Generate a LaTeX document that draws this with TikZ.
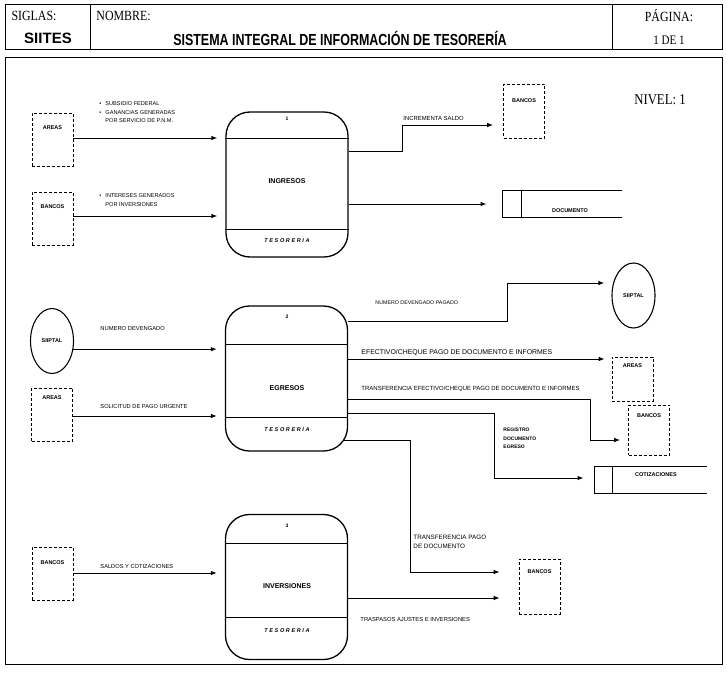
\documentclass[tikz,border=0pt]{standalone}
\usepackage{fontspec}
\setmainfont{Liberation Serif}
\newfontfamily\hdrfont[FakeStretch=0.85]{Liberation Serif}
\newfontfamily\ttlfont[FakeStretch=0.78]{Liberation Sans}
\newfontfamily\lblfont{Liberation Sans}
\usetikzlibrary{arrows.meta,calc,shapes.geometric}

\begin{document}
\begin{tikzpicture}[x=1pt,y=-1pt,
  line width=0.9pt,
  arr/.style={-{Latex[length=6pt,width=4.5pt]}, line width=1pt, shorten >=#1},
  arr/.default=8pt,
  proc/.style={draw, line width=1.3pt, rounded corners=24pt,
    minimum width=122pt, minimum height=145pt, inner sep=0pt},
  ext/.style={draw, line width=0.6pt, densely dashed,
    minimum width=41pt, minimum height=#1, inner sep=0pt},
  ext/.default=53pt,
  extc/.style={draw, ellipse, line width=1.1pt,
    minimum width=43pt, minimum height=65pt, inner sep=0pt,
    font=\lblfont\bfseries\fontsize{5.5}{6}\selectfont},
  elab/.style={font=\lblfont\bfseries\fontsize{5.5}{6}\selectfont, inner sep=0pt},
  store/.style={minimum width=#1, minimum height=26pt, inner sep=0pt},
  lab/.style={font=\lblfont\fontsize{#1}{#1}\selectfont, inner sep=0pt, anchor=west},
  lab/.default=5.8,
  mlab/.style={font=\lblfont\fontsize{#1}{8.5}\selectfont, inner sep=0pt,
    anchor=north west, align=left},
  pname/.style={font=\lblfont\bfseries\fontsize{7}{8}\selectfont, inner sep=0pt},
  pnum/.style={font=\lblfont\bfseries\fontsize{5}{6}\selectfont, inner sep=0pt},
  pown/.style={font=\lblfont\bfseries\itshape\addfontfeature{LetterSpace=30}\fontsize{5.5}{6}\selectfont, inner sep=0pt},
  slab/.style={font=\lblfont\bfseries\fontsize{5.5}{6}\selectfont, inner sep=0pt},
]
\useasboundingbox (0,0) rectangle (727,674);

% ---------- header ----------
\draw[line width=1pt] (5,5) rectangle (722,50);
\draw[line width=1pt] (90,5) -- (90,50);
\draw[line width=1pt] (612,5) -- (612,50);
\node[font=\hdrfont\fontsize{14}{14}\selectfont, inner sep=0pt] (siglas) at (34,16) {SIGLAS:};
\node[font=\lblfont\bfseries\fontsize{15}{15}\selectfont, inner sep=0pt] (siites) at (48,38) {SIITES};
\node[font=\hdrfont\fontsize{14}{14}\selectfont, inner sep=0pt, anchor=west] (nombre) at (96,16) {NOMBRE:};
\node[font=\ttlfont\bfseries\fontsize{16}{16}\selectfont, inner sep=0pt] (titulo) at (340,38)
  {SISTEMA INTEGRAL DE INFORMACIÓN DE TESORERÍA};
\node[font=\hdrfont\fontsize{14}{14}\selectfont, inner sep=0pt] (pagina) at (669,16) {PÁGINA:};
\node[font=\hdrfont\fontsize{13}{13}\selectfont, inner sep=0pt] (pag) at (669,40) {1 DE 1};

% ---------- frame ----------
\draw[line width=1pt] (5,58) rectangle (722,664);
\node[font=\hdrfont\fontsize{15}{15}\selectfont, inner sep=0pt] (nivel) at (660,100) {NIVEL: 1};

% ---------- processes ----------
\node[proc] (p1) at (287,184.5) {};
\draw[line width=1pt] (p1.west |- 0,138) -- (p1.east |- 0,138);
\draw[line width=1pt] (p1.west |- 0,229) -- (p1.east |- 0,229);
\node[pnum]  (p1n) at (287,119) {1};
\node[pname] (p1t) at (287,181) {INGRESOS};
\node[pown]  (p1o) at (287,241) {TESORERIA};

\node[proc] (p2) at (286.5,378.5) {};
\draw[line width=1pt] (p2.west |- 0,344) -- (p2.east |- 0,344);
\draw[line width=1pt] (p2.west |- 0,417) -- (p2.east |- 0,417);
\node[pnum]  (p2n) at (287,317) {2};
\node[pname] (p2t) at (287,388) {EGRESOS};
\node[pown]  (p2o) at (287,430) {TESORERIA};

\node[proc] (p3) at (286.5,587) {};
\draw[line width=1pt] (p3.west |- 0,543) -- (p3.east |- 0,543);
\draw[line width=1pt] (p3.west |- 0,617) -- (p3.east |- 0,617);
\node[pnum]  (p3n) at (287,526) {3};
\node[pname] (p3t) at (287,586) {INVERSIONES};
\node[pown]  (p3o) at (287,631) {TESORERIA};

% ---------- external entities ----------
\node[ext] (areasA) at (52.5,139.5) {};
\node[elab] at (52.5,128) {AREAS};
\node[ext] (bancosA) at (52.5,218.5) {};
\node[elab] at (52.5,207) {BANCOS};
\node[extc] (sipA) at (52,341) {SIIPTAL};
\node[ext] (areasB) at (52,414.5) {};
\node[elab] at (52,398) {AREAS};
\node[ext] (bancosB) at (52.5,573.5) {};
\node[elab] at (52.5,563) {BANCOS};

\node[ext=54pt] (bancosC) at (524,111) {};
\node[elab] at (524,101) {BANCOS};
\node[extc] (sipB) at (633.5,295.5) {SIIPTAL};
\node[ext=44pt] (areasC) at (632.5,379) {};
\node[elab] at (632.5,366) {AREAS};
\node[ext=50pt] (bancosD) at (649,430) {};
\node[elab] at (649,416) {BANCOS};
\node[ext=55pt] (bancosE) at (539.5,586.5) {};
\node[elab] at (539.5,572) {BANCOS};

% ---------- data stores ----------
\node[store=119pt] (doc) at (562.5,204) {};
\draw[line width=1.1pt] (doc.north east) -- (doc.north west) -- (doc.south west) -- (doc.south east);
\draw[line width=1pt] ([xshift=19pt]doc.north west) -- ([xshift=19pt]doc.south west);
\node[slab] (doct) at (570,211) {DOCUMENTO};

\node[store=112pt] (cot) at (651,480) {};
\draw[line width=1.1pt] (cot.north east) -- (cot.north west) -- (cot.south west) -- (cot.south east);
\draw[line width=1pt] ([xshift=18pt]cot.north west) -- ([xshift=18pt]cot.south west);
\node[slab] (cott) at (656,475) {COTIZACIONES};

% ---------- flows into the processes ----------
\draw[arr] (areasA.east |- 0,138) -- (p1.west |- 0,138);
\draw[arr] (bancosA.east |- 0,216) -- (p1.west |- 0,216);
\draw[arr] (sipA.-21) -- (p2.west |- sipA.-21);
\draw[arr] (areasB.east |- 0,416) -- (p2.west |- 0,416);
\draw[arr] (bancosB.east |- 0,573) -- (p3.west |- 0,573);

\node[mlab=5.6] (l1) at (99,101.5)
  {\makebox[6pt][l]{•}SUBSIDIO FEDERAL\\\makebox[6pt][l]{•}GANANCIAS GENERADAS\\\hspace*{6pt}POR SERVICIO DE P.N.M.};
\node[mlab=5.6] (l2) at (99,193.5)
  {\makebox[6pt][l]{•}INTERESES GENERADOS\\\hspace*{6pt}POR INVERSIONES};
\node[lab=5.8] (l3) at (100,328) {NUMERO DEVENGADO};
\node[lab=5.7] (l4) at (100,407) {SOLICITUD DE PAGO URGENTE};
\node[lab=5.7] (l5) at (100,567) {SALDOS Y COTIZACIONES};

% ---------- flows out of the processes ----------
\draw[arr=10pt] (p1.east |- 0,151) -- (402,151) -- (402,125) -- (bancosC.west |- 0,125);
\node[lab=5.9] (l6) at (403,118) {INCREMENTA SALDO};
\draw[arr=16pt] (p1.east |- 0,204) -- (doc.west |- 0,204);

\draw[arr=7pt] (p2.east |- 0,321) -- (507,321) -- (507,283) -- (sipB.west |- 0,283);
\node[lab=5.3] (l7) at (375,303) {NUMERO DEVENGADO PAGADO};
\draw[arr=7pt] (p2.east |- 0,359) -- (areasC.west |- 0,359);
\node[lab=6.9] (l8) at (361,353) {EFECTIVO/CHEQUE PAGO DE DOCUMENTO E INFORMES};
\draw[arr=8pt] (p2.east |- 0,399) -- (590,399) -- (590,440) -- (bancosD.west |- 0,440);
\node[lab=6] (l9) at (361,389) {TRANSFERENCIA EFECTIVO/CHEQUE PAGO DE DOCUMENTO E INFORMES};
\draw[arr=11pt] (p2.east |- 0,413) -- (494,413) -- (494,478) -- (cot.west |- 0,478);
\node[font=\lblfont\bfseries\fontsize{5}{8.5}\selectfont, inner sep=0pt, anchor=north west, align=left]
  (l10) at (503,428) {REGISTRO\\DOCUMENTO\\EGRESO};
\draw[arr=19pt] ($(p2.east |- 0,440)+(-4,0)$) -- (410,440) -- (410,572) -- (bancosE.west |- 0,572);
\node[mlab=6.3] (l11) at (413,535) {TRANSFERENCIA PAGO\\DE DOCUMENTO};
\draw[arr=19pt] (p3.east |- 0,598) -- (bancosE.west |- 0,598);
\node[lab=5.8] (l12) at (360,619) {TRASPASOS AJUSTES E INVERSIONES};
\end{tikzpicture}
\end{document}
